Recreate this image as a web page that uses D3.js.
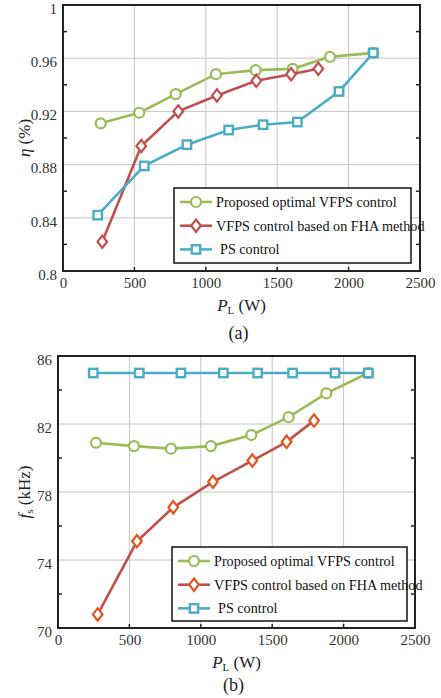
<!DOCTYPE html>
<html><head><meta charset="utf-8">
<script src="https://cdn.jsdelivr.net/npm/d3@7"></script>
<style>body{margin:0;background:#fff}svg{display:block}svg text{font-family:"Liberation Serif","Times New Roman",serif}</style>
</head><body>
<svg id="c" width="441" height="698"></svg>
<script>
// ---------- data ----------
const seriesNames = ["Proposed optimal VFPS control", "VFPS control based on FHA method", "PS control"];
const xTicks = [0, 500, 1000, 1500, 2000, 2500];

// Panel (a): efficiency
const effProposedP = [264, 534, 789, 1071, 1349, 1608, 1870, 2173];
const effProposed  = [0.911, 0.919, 0.933, 0.948, 0.951, 0.952, 0.961, 0.964];
const effFHAP      = [275, 548, 807, 1078, 1354, 1597, 1788];
const effFHA       = [0.822, 0.894, 0.920, 0.932, 0.943, 0.948, 0.952];
const effPSP       = [243, 569, 868, 1160, 1401, 1641, 1933, 2173];
const effPS        = [0.842, 0.879, 0.895, 0.906, 0.910, 0.912, 0.935, 0.964];
const effTicks     = [0.8, 0.84, 0.88, 0.92, 0.96, 1];
const effTickLabels= ["0.8", "0.84", "0.88", "0.92", "0.96", "1"];

// Panel (b): switching frequency
const fsProposedP  = [266, 532, 791, 1071, 1354, 1615, 1879, 2173];
const fsProposed   = [80.9, 80.7, 80.55, 80.7, 81.35, 82.4, 83.8, 85.0];
const fsFHAP       = [278, 553, 807, 1085, 1361, 1601, 1793];
const fsFHA        = [70.8, 75.1, 77.1, 78.6, 79.85, 80.95, 82.2];
const fsPSP        = [247, 569, 861, 1158, 1398, 1643, 1940, 2173];
const fsPS         = [85, 85, 85, 85, 85, 85, 85, 85];
const fsTicks      = [70, 74, 78, 82, 86];

const colors = {green: "#9bbb59", red: "#c0504d", orange: "#e2541c", blue: "#4bacc6"};
const FONT = "Liberation Serif, Times New Roman, serif";

const svg = d3.select("#c");

function marker(g, type, x, y, col) {
  if (type === "circle") {
    g.append("circle").attr("cx", x).attr("cy", y).attr("r", 5)
      .attr("fill", "#fff").attr("stroke", col).attr("stroke-width", 2.2);
  } else if (type === "square") {
    g.append("rect").attr("x", x - 4.2).attr("y", y - 4.2).attr("width", 8.4).attr("height", 8.4)
      .attr("fill", "#fff").attr("stroke", col).attr("stroke-width", 2.4);
  } else {
    g.append("path").attr("d", `M${x},${y-6.2}L${x+4.8},${y}L${x},${y+6.2}L${x-4.8},${y}Z`)
      .attr("fill", "#fff").attr("stroke", col).attr("stroke-width", 2.2);
  }
}

function panel(o) {
  const x = d3.scaleLinear().domain([0, 2500]).range([o.left, o.right]);
  const y = d3.scaleLinear().domain(o.yDomain).range([o.bottom, o.top]);
  const g = svg.append("g");

  // grid
  xTicks.slice(1, -1).forEach(t => g.append("line").attr("x1", x(t)).attr("x2", x(t))
    .attr("y1", o.top).attr("y2", o.bottom).attr("stroke", "#c4c4c4").attr("stroke-width", 1));
  o.yTicks.slice(1, -1).forEach(t => g.append("line").attr("x1", o.left).attr("x2", o.right)
    .attr("y1", y(t)).attr("y2", y(t)).attr("stroke", "#c4c4c4").attr("stroke-width", 1));

  // minor ticks (inward) at midpoints on left and right
  for (let i = 0; i < o.yTicks.length - 1; i++) {
    const m = (o.yTicks[i] + o.yTicks[i + 1]) / 2;
    g.append("line").attr("x1", o.left).attr("x2", o.left + 4).attr("y1", y(m)).attr("y2", y(m))
      .attr("stroke", "#222").attr("stroke-width", 1.5);
    g.append("line").attr("x1", o.right).attr("x2", o.right - 4).attr("y1", y(m)).attr("y2", y(m))
      .attr("stroke", "#222").attr("stroke-width", 1.5);
  }
  // x ticks inward
  xTicks.slice(1, -1).forEach(t => g.append("line").attr("x1", x(t)).attr("x2", x(t))
    .attr("y1", o.bottom).attr("y2", o.bottom - 4).attr("stroke", "#222").attr("stroke-width", 1.5));

  // axes with d3 for labels
  const xa = g.append("g").attr("transform", `translate(0,${o.bottom})`)
    .call(d3.axisBottom(x).tickValues(xTicks).tickSize(0).tickPadding(6).tickFormat(d3.format("d")));
  xa.attr("font-family", FONT);
  xa.select(".domain").remove();
  xa.selectAll("text").style("font-family", FONT).attr("font-size", 15).attr("fill", "#333");

  const ya = g.append("g").attr("transform", `translate(${o.left},0)`)
    .call(d3.axisLeft(y).tickValues(o.yTicks).tickSize(0).tickPadding(6)
      .tickFormat((d, i) => o.yTickLabels ? o.yTickLabels[i] : d3.format("d")(d)));
  ya.attr("font-family", FONT);
  ya.select(".domain").remove();
  ya.selectAll("text").style("font-family", FONT).attr("font-size", 15).attr("fill", "#333")
    .attr("dy", "0.55em");

  // series
  const line = d3.line().x(d => x(d[0])).y(d => y(d[1]));
  o.series.forEach(s => {
    const pts = s.p.map((p, i) => [p, s.v[i]]);
    g.append("path").datum(pts).attr("d", line).attr("fill", "none")
      .attr("stroke", s.line).attr("stroke-width", 2.6);
    pts.forEach(d => marker(g, s.shape, x(d[0]), y(d[1]), s.mark));
  });

  // box
  g.append("rect").attr("x", o.left).attr("y", o.top).attr("width", o.right - o.left)
    .attr("height", o.bottom - o.top).attr("fill", "none").attr("stroke", "#222").attr("stroke-width", 2);

  // legend
  const L = o.legend;
  g.append("rect").attr("x", L.x).attr("y", L.y).attr("width", L.w).attr("height", L.h)
    .attr("fill", "#fff").attr("stroke", "#111").attr("stroke-width", 1.5);
  o.series.forEach((s, i) => {
    const ly = L.y + 14 + i * 23.7;
    g.append("line").attr("x1", L.x + 6).attr("x2", L.x + 38).attr("y1", ly).attr("y2", ly)
      .attr("stroke", s.line).attr("stroke-width", 2.6);
    marker(g, s.shape, L.x + 22, ly, s.mark);
    g.append("text").attr("x", L.x + 42 + (i === 2 ? 4 : 0)).attr("y", ly + 5)
      .style("font-family", FONT).attr("font-size", 14.2).attr("fill", "#111").text(seriesNames[i]);
  });

  // x label
  const xl = g.append("text").attr("x", (o.left + o.right) / 2).attr("y", o.bottom + 40)
    .attr("text-anchor", "middle").style("font-family", FONT).attr("font-size", 17).attr("fill", "#222");
  xl.append("tspan").attr("font-style", "italic").text("P");
  xl.append("tspan").attr("font-size", 11).attr("dy", 3).text("L");
  xl.append("tspan").attr("dy", -3).text(" (W)");

  // y label
  const yl = g.append("text").attr("transform", `translate(${o.yLabelX},${(o.top + o.bottom) / 2}) rotate(-90)`)
    .attr("text-anchor", "middle").style("font-family", FONT).attr("font-size", 17).attr("fill", "#222");
  o.yLabel(yl);

  // caption
  g.append("text").attr("x", (o.left + o.right) / 2 - 3).attr("y", o.bottom + o.capOff)
    .attr("text-anchor", "middle").style("font-family", FONT).attr("font-size", 18).attr("fill", "#222")
    .text(o.caption);
}

panel({
  left: 63, right: 420, top: 5, bottom: 271,
  yDomain: [0.8, 1], yTicks: effTicks, yTickLabels: effTickLabels,
  series: [
    {p: effProposedP, v: effProposed, line: colors.green, mark: colors.green, shape: "circle"},
    {p: effFHAP, v: effFHA, line: colors.red, mark: colors.red, shape: "diamond"},
    {p: effPSP, v: effPS, line: colors.blue, mark: colors.blue, shape: "square"}
  ],
  legend: {x: 174, y: 188, w: 237, h: 75},
  yLabelX: 30,
  yLabel: t => { t.append("tspan").attr("font-style", "italic").text("η"); t.append("tspan").text(" (%)"); },
  caption: "(a)", capOff: 68
});

panel({
  left: 58, right: 415, top: 356, bottom: 628,
  yDomain: [70, 86], yTicks: fsTicks,
  series: [
    {p: fsProposedP, v: fsProposed, line: colors.green, mark: colors.green, shape: "circle"},
    {p: fsFHAP, v: fsFHA, line: colors.red, mark: colors.orange, shape: "diamond"},
    {p: fsPSP, v: fsPS, line: colors.blue, mark: colors.blue, shape: "square"}
  ],
  legend: {x: 172, y: 547, w: 235, h: 74},
  yLabelX: 30,
  yLabel: t => { t.append("tspan").attr("font-style", "italic").text("f");
    t.append("tspan").attr("font-size", 11).attr("dy", 3).text("s");
    t.append("tspan").attr("dy", -3).text(" (kHz)"); },
  caption: "(b)", capOff: 63
});
</script>
</body></html>
